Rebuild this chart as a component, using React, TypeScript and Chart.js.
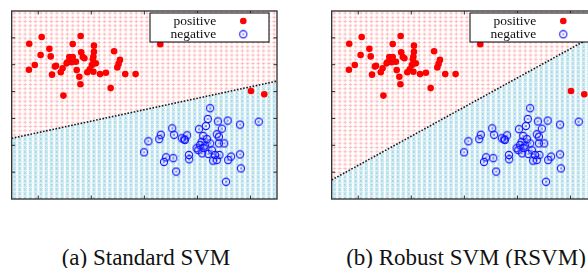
import React, { useEffect, useRef } from 'react';
import { Chart, registerables } from 'chart.js';

Chart.register(...registerables);

// ---- data (x axis 0..10, y axis 0..7; tick labels hidden in the reference) ----
const xTicks = [1, 3, 5, 7, 9];
const yTicks = [1, 2, 3, 4, 5, 6];

const positivePoints: [number, number][] = [
  [0.66, 5.78], [1.13, 6.03], [2.6, 6.07], [2.3, 5.77], [1.42, 5.59], [0.87, 4.99],
  [0.65, 4.81], [1.09, 5.36], [1.47, 5.31], [1.67, 4.96], [1.52, 4.63], [1.85, 4.72],
  [1.92, 4.87], [2.07, 5.05], [2.17, 5.29], [2.3, 5.29], [2.42, 5.11], [2.45, 4.8],
  [2.55, 4.55], [2.59, 4.27], [1.95, 3.85], [2.62, 5.46], [2.68, 5.29], [2.74, 5.24],
  [3.1, 5.71], [3.1, 5.48], [3.08, 5.3], [3.06, 5.2], [3.17, 5.05], [3.02, 4.99],
  [2.85, 4.72], [3.08, 4.74], [3.33, 4.65], [3.55, 4.7], [3.86, 5.5], [4.08, 5.18],
  [4.03, 5.03], [3.98, 4.9], [4.28, 4.65], [4.67, 4.65], [3.73, 4.13], [5.6, 5.76],
  [9.02, 4.02], [9.52, 3.9], [2.26, 5.09], [2.1, 5.09], [1.63, 4.93], [2.94, 4.83],
];

const negativePoints: [number, number][] = [
  [7.48, 3.38], [7.39, 2.98], [7.77, 2.89], [8.14, 2.92], [7.32, 2.72], [7.06, 2.6],
  [7.92, 2.62], [8.61, 2.77], [9.31, 2.88], [6.05, 2.63], [6.12, 2.39], [5.62, 2.39],
  [5.56, 2.23], [6.41, 2.26], [6.5, 2.22], [6.61, 2.37], [6.53, 2.2], [5.15, 2.15],
  [4.99, 1.74], [5.82, 1.55], [5.74, 1.38], [6.09, 1.52], [6.2, 1.02], [6.68, 1.64],
  [6.69, 1.48], [7.22, 2.35], [7.16, 2.13], [7.1, 2.01], [6.97, 1.89], [7.23, 1.9],
  [7.18, 1.7], [7.48, 2.07], [7.55, 1.81], [7.41, 1.68], [7.66, 1.64], [7.73, 1.45],
  [7.83, 1.64], [7.73, 2.41], [7.81, 2.32], [8.01, 2.07], [7.81, 2.07], [8.16, 1.45],
  [8.27, 1.58], [8.61, 1.66], [8.64, 1.14], [8.08, 0.64], [7.29, 1.99], [7.03, 1.82],
  [7.59, 1.43], [7.36, 2.23],
];

const boundaryStandard: [number, number][] = [[0, 2.26], [10, 4.39]];
const boundaryRobust: [number, number][] = [[0, 0.71], [10, 6.14]];

const seriesLabels = ['positive', 'negative'];
const captions = ['(a) Standard SVM', '(b) Robust SVM (RSVM)'];

// ---- helpers ----
const PAD = { left: 11.7, top: 11, right: 23, bottom: 11 };
const CW = 300;
const CH = 210;

function makePattern(ctx: CanvasRenderingContext2D, kind: 'pos' | 'neg') {
  const c = document.createElement('canvas');
  const cols = 10;
  const rows = 5;
  c.width = 53;
  c.height = 21;
  const g = c.getContext('2d')!;
  const sx = c.width / cols;
  const sy = c.height / rows;
  if (kind === 'neg') {
    g.fillStyle = '#d6eef5';
    for (let i = 0; i < cols; i++) {
      g.fillRect((i + 0.5) * sx - 1.6, 0, 3.2, c.height);
    }
  }
  g.lineWidth = 1;
  g.strokeStyle = kind === 'pos' ? '#ffb9b9' : '#9fd3e4';
  for (let i = 0; i < cols; i++) {
    for (let j = 0; j < rows; j++) {
      const cx = (i + 0.5) * sx;
      const cy = (j + 0.5) * sy;
      g.beginPath();
      if (kind === 'pos') {
        g.moveTo(cx - 1.7, cy);
        g.lineTo(cx + 1.7, cy);
        g.moveTo(cx, cy - 1.7);
        g.lineTo(cx, cy + 1.7);
      } else {
        g.moveTo(cx - 1.4, cy - 1.4);
        g.lineTo(cx + 1.4, cy + 1.4);
        g.moveTo(cx + 1.4, cy - 1.4);
        g.lineTo(cx - 1.4, cy + 1.4);
      }
      g.stroke();
    }
  }
  const p = ctx.createPattern(c, 'repeat')!;
  p.setTransform(new DOMMatrix().translateSelf(PAD.left, PAD.top));
  return p;
}

function makeRing() {
  const c = document.createElement('canvas');
  c.width = 10;
  c.height = 10;
  const g = c.getContext('2d')!;
  g.strokeStyle = '#1414ff';
  g.lineWidth = 1.1;
  g.beginPath();
  g.arc(5, 5, 3.6, 0, Math.PI * 2);
  g.stroke();
  g.fillStyle = '#1414ff';
  g.beginPath();
  g.arc(5, 5, 0.75, 0, Math.PI * 2);
  g.fill();
  return c;
}

const framePlugin = {
  id: 'frameAndLegend',
  afterDatasetsDraw(chart: any) {
    const { ctx, chartArea: a, scales } = chart;
    ctx.save();
    // frame
    ctx.strokeStyle = '#2a2a2a';
    ctx.lineWidth = 1.3;
    ctx.strokeRect(a.left, a.top, a.right - a.left, a.bottom - a.top);
    // inward ticks, mirrored
    const tl = 3.5;
    ctx.lineWidth = 1;
    ctx.beginPath();
    for (const v of xTicks) {
      const px = scales.x.getPixelForValue(v);
      ctx.moveTo(px, a.bottom);
      ctx.lineTo(px, a.bottom - tl);
      ctx.moveTo(px, a.top);
      ctx.lineTo(px, a.top + tl);
    }
    for (const v of yTicks) {
      const py = scales.y.getPixelForValue(v);
      ctx.moveTo(a.left, py);
      ctx.lineTo(a.left + tl, py);
      ctx.moveTo(a.right, py);
      ctx.lineTo(a.right - tl, py);
    }
    ctx.stroke();
    // legend box
    const bx = a.left + 138.3;
    const by = a.top + 2;
    const bw = 119;
    const bh = 29;
    ctx.fillStyle = '#ffffff';
    ctx.fillRect(bx, by, bw, bh);
    ctx.strokeStyle = '#000';
    ctx.lineWidth = 1;
    ctx.strokeRect(bx, by, bw, bh);
    ctx.font = '13.5px "Liberation Serif"';
    ctx.textAlign = 'right';
    ctx.textBaseline = 'alphabetic';
    ctx.fillStyle = '#111';
    const items = chart.data.datasets.filter((d: any) => d.inLegend);
    items.forEach((d: any, i: number) => {
      const cy = by + 8 + i * 13.3;
      ctx.fillText(d.label, a.left + 204.5, cy + 4);
      const mx = a.left + 231.6;
      const st = d.pointStyle;
      if (st && typeof st === 'object') {
        ctx.drawImage(st, mx - st.width / 2, cy - st.height / 2);
      } else {
        ctx.fillStyle = d.backgroundColor;
        ctx.beginPath();
        ctx.arc(mx, cy, d.pointRadius, 0, Math.PI * 2);
        ctx.fill();
        ctx.fillStyle = '#111';
      }
    });
    ctx.restore();
  },
};

function Panel({ left, boundary, caption }: { left: number; boundary: [number, number][]; caption: string }) {
  const ref = useRef<HTMLCanvasElement>(null);
  useEffect(() => {
    const canvas = ref.current!;
    const ctx = canvas.getContext('2d')!;
    const pink = makePattern(ctx, 'pos');
    const blue = makePattern(ctx, 'neg');
    const ring = makeRing();
    const line = boundary.map(([x, y]) => ({ x, y }));
    const chart = new Chart(canvas, {
      type: 'scatter',
      data: {
        datasets: [
          {
            label: 'negative region',
            data: line,
            showLine: true,
            borderColor: 'rgba(0,0,0,0)',
            borderWidth: 1,
            pointRadius: 0,
            fill: 'start',
            backgroundColor: blue,
            order: 20,
          } as any,
          {
            label: 'positive region',
            data: line,
            showLine: true,
            borderColor: '#1a1a1a',
            borderWidth: 1.6,
            borderDash: [1.6, 1.6],
            pointRadius: 0,
            fill: 'end',
            backgroundColor: pink,
            order: 19,
          } as any,
          {
            label: seriesLabels[0],
            inLegend: true,
            data: positivePoints.map(([x, y]) => ({ x, y })),
            pointStyle: 'circle',
            pointRadius: 3.3,
            backgroundColor: '#ff0000',
            borderWidth: 0,
            order: 2,
          } as any,
          {
            label: seriesLabels[1],
            inLegend: true,
            data: negativePoints.map(([x, y]) => ({ x, y })),
            pointStyle: ring,
            pointRadius: 4,
            order: 1,
          } as any,
        ],
      },
      options: {
        animation: false,
        responsive: false,
        devicePixelRatio: 1,
        layout: { padding: PAD },
        scales: {
          x: { type: 'linear', min: 0, max: 10, display: false },
          y: { type: 'linear', min: 0, max: 7, display: false },
        },
        plugins: {
          legend: { display: false },
          tooltip: { enabled: false },
        },
      },
      plugins: [framePlugin],
    });
    return () => chart.destroy();
  }, [boundary]);

  return (
    <>
      <canvas
        ref={ref}
        width={CW}
        height={CH}
        style={{ position: 'absolute', left, top: 0, width: CW, height: CH }}
      />
      <div
        style={{
          position: 'absolute',
          left: left + 146 - 150,
          top: 246,
          width: 300,
          textAlign: 'center',
          fontFamily: '"Liberation Serif", serif',
          fontSize: 23,
          lineHeight: 1,
          color: '#111',
          whiteSpace: 'nowrap',
        }}
      >
        {caption}
      </div>
    </>
  );
}

export default function App() {
  return (
    <div
      style={{
        position: 'absolute',
        left: 0,
        top: 0,
        width: 588,
        height: 268,
        overflow: 'hidden',
        background: '#fff',
      }}
    >
      <Panel left={0} boundary={boundaryStandard} caption={captions[0]} />
      <Panel left={320} boundary={boundaryRobust} caption={captions[1]} />
    </div>
  );
}
